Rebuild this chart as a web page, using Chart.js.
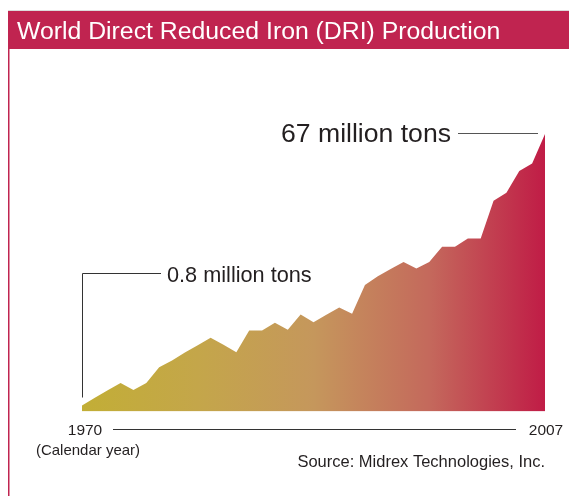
<!DOCTYPE html>
<html>
<head>
<meta charset="utf-8">
<script src="https://cdn.jsdelivr.net/npm/chart.js@4"></script>
<style>
  html, body { margin: 0; padding: 0; background: #fff; }
  #dri { display: block; }
</style>
</head>
<body>
<canvas id="dri" width="569" height="496"></canvas>
<script>
// values (million tons), one point per vertex
const tickLabels = ['1970', ...Array(35).fill(''), '2007'];
const production = [0.8, 2.7, 4.5, 6.3, 4.6, 6.3, 10.1, 11.8, 13.7, 15.5,
  17.3, 15.6, 13.8, 19.1, 19.1, 21.0, 19.3, 23.0, 21.1, 22.9,
  24.7, 23.2, 30.2, 32.3, 34.1, 35.8, 34.2, 35.8, 39.5, 39.5,
  41.5, 41.5, 50.7, 52.7, 58.0, 59.8, 67.0];
const titleText = 'World Direct Reduced Iron (DRI) Production';
const firstLabel = '0.8 million tons';
const lastLabel = '67 million tons';
const axisCaption = '(Calendar year)';
const sourceText = 'Source: Midrex Technologies, Inc.';

const FONT = '"Liberation Sans", Arial, Helvetica, sans-serif';
const crimson = '#c02450';
const ink = '#231f20';

function fillGradient(context) {
  const chart = context.chart;
  const a = chart.chartArea;
  if (!a) return null;
  const g = chart.ctx.createLinearGradient(a.left, 0, a.right, 0);
  g.addColorStop(0, '#c2ae36');
  g.addColorStop(0.25, '#c4a64a');
  g.addColorStop(0.5, '#c5975c');
  g.addColorStop(0.75, '#c4695c');
  g.addColorStop(1, '#c01c46');
  return g;
}

// title bar, frame line, labels and leader lines
const decorations = {
  id: 'decorations',
  afterDraw(chart) {
    const c = chart.ctx;
    const xs = chart.scales.x, ys = chart.scales.y;
    const x0 = xs.getPixelForValue(0);
    const xN = xs.getPixelForValue(production.length - 1);
    const y0 = ys.getPixelForValue(production[0]);
    const yN = ys.getPixelForValue(production[production.length - 1]);
    c.save();

    // title bar
    c.fillStyle = '#dcdcdc';
    c.fillRect(8, 10, 561, 1);
    c.fillStyle = crimson;
    c.fillRect(8, 11, 561, 38);
    c.fillRect(8, 49, 1.5, 447);
    c.fillStyle = '#fff';
    c.font = '24.8px ' + FONT;
    c.textBaseline = 'alphabetic';
    c.textAlign = 'left';
    c.fillText(titleText, 17, 39);

    // 67 million tons
    c.fillStyle = ink;
    c.font = '26.6px ' + FONT;
    c.textAlign = 'right';
    c.fillText(lastLabel, 451, 142);
    c.strokeStyle = '#555';
    c.lineWidth = 1;
    c.beginPath();
    c.moveTo(458, Math.round(yN) - 0.5);
    c.lineTo(xN - 7, Math.round(yN) - 0.5);
    c.stroke();

    // 0.8 million tons
    c.font = '21.7px ' + FONT;
    c.textAlign = 'left';
    c.fillText(firstLabel, 167, 282);
    c.strokeStyle = '#333';
    c.beginPath();
    c.moveTo(x0 + 0.5, y0 - 8);
    c.lineTo(x0 + 0.5, 273.5);
    c.lineTo(161, 273.5);
    c.stroke();

    // year axis
    c.font = '15.5px ' + FONT;
    c.textAlign = 'center';
    c.fillText(tickLabels[0], x0 + 3, 435);
    c.fillText(tickLabels[tickLabels.length - 1], xN + 1, 435);
    c.beginPath();
    c.moveTo(113, 429.5);
    c.lineTo(516, 429.5);
    c.stroke();
    c.font = '15px ' + FONT;
    c.fillText(axisCaption, 88, 455);
    c.font = '16.5px ' + FONT;
    c.textAlign = 'right';
    c.fillText(sourceText, 545, 467);
    c.restore();
  }
};

new Chart(document.getElementById('dri'), {
  type: 'line',
  data: {
    labels: tickLabels,
    datasets: [{
      data: production,
      fill: 'start',
      backgroundColor: fillGradient,
      borderColor: 'rgba(0,0,0,0)',
      borderWidth: 0,
      pointRadius: 0,
      tension: 0
    }]
  },
  options: {
    responsive: false,
    animation: false,
    layout: { padding: { left: 82, right: 24, top: 134, bottom: 84.5 } },
    scales: {
      x: { display: false, offset: false },
      y: { display: false, min: -0.66, max: 67 }
    },
    plugins: { legend: { display: false }, tooltip: { enabled: false } }
  },
  plugins: [decorations]
});
</script>
</body>
</html>
